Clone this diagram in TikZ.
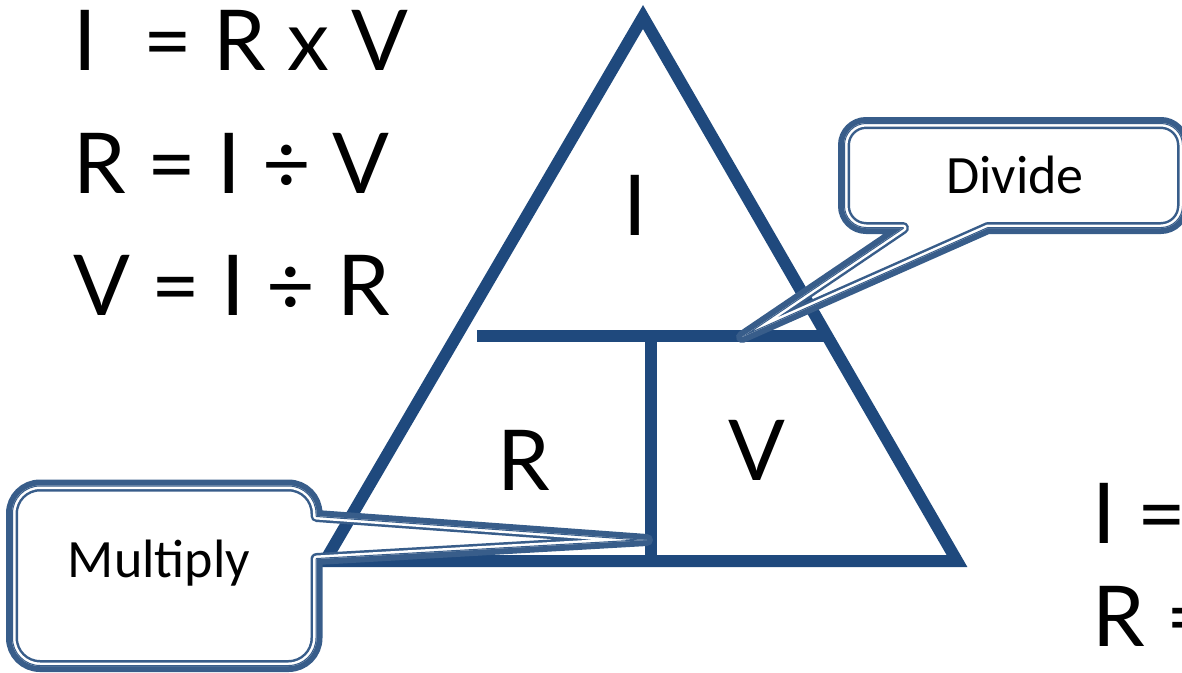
\documentclass[tikz,border=0pt]{standalone}
\usepackage{fontspec}
\setmainfont{Lato}
\newfontfamily\calfont{Carlito}
\definecolor{tri}{HTML}{1F497D}
\definecolor{cal}{HTML}{385D8A}
\def\MulPath{(12,513.5) .. controls (12,498) and (24.5,485.5) .. (40,485.5) -- (288.5,485.5) .. controls (304,485.5) and (316.5,498) .. (316.5,513.5) -- (316.5,516) -- (647,540) -- (316.5,559) -- (316.5,638) .. controls (316.5,653.5) and (304,666) .. (288.5,666) -- (40,666) .. controls (24.5,666) and (12,653.5) .. (12,638) -- cycle}
\def\DivPath{(844,145) .. controls (844,132.9) and (853.9,123) .. (866,123) -- (1161,123) .. controls (1173.1,123) and (1183,132.9) .. (1183,145) -- (1183,206) .. controls (1183,218.1) and (1173.1,228) .. (1161,228) -- (988,228) -- (742,337) -- (903,228) -- (866,228) .. controls (853.9,228) and (844,218.1) .. (844,206) -- cycle}
\begin{document}
\begin{tikzpicture}[x=1pt,y=-1pt,
  bigtxt/.style={inner sep=0pt, font=\fontsize{84}{90}\selectfont},
  caltxt/.style={inner sep=0pt, font=\calfont\fontsize{54}{60}\selectfont},
  triline/.style={draw=tri, line width=12pt, line join=miter},
  divline/.style={draw=tri, line width=11.5pt},
  calthick/.style={draw=cal, line width=12pt, line join=round},
  calgap/.style={draw=white, line width=7pt, line join=round},
  calthin/.style={draw=cal, line width=2pt, line join=round}]
\useasboundingbox (0,0) rectangle (1182,672);
% triangle
\coordinate (A) at (643,17);
\coordinate (B) at (325,561);
\coordinate (C) at (957,561);
\draw[triline] (A) -- (B) -- (C) -- cycle;
\coordinate (HL) at (477,336);
\coordinate (HR) at (828,336);
\coordinate (VT) at (651,336);
\coordinate (VB) at (651,561);
\draw[divline] (HL) -- (HR);
\draw[divline] (VT) -- (VB);
\node[bigtxt, anchor=base] (tI) at (635,235) {I};
\node[bigtxt, anchor=base] (tR) at (524,490) {R};
\node[bigtxt, anchor=base] (tV) at (757,480) {V};
% equations
\node[bigtxt, anchor=base west] (e1) at (73,70) {I\hspace{0.3em} = R x V};
\node[bigtxt, anchor=base west] (e2) at (73,193) {R = I ÷ V};
\node[bigtxt, anchor=base west] (e3) at (73,315) {V = I ÷ R};
\node[bigtxt, anchor=base west] (e4) at (1092,543) {I =};
\node[bigtxt, anchor=base west] (e5) at (1092,646) {R =};
% multiply callout
\fill[white, rounded corners=28pt] (12,485.5) rectangle (316.5,666);
\draw[calthick] \MulPath;
\begin{scope}
\clip \MulPath;
\draw[calgap] \MulPath;
\draw[calthin] \MulPath;
\end{scope}
\node[caltxt, anchor=base] (mul) at (159,577) {Multiply};
% divide callout
\fill[white, rounded corners=22pt] (844,123) rectangle (1183,228);
\draw[calthick] \DivPath;
\begin{scope}
\clip \DivPath;
\draw[calgap] \DivPath;
\draw[calthin] \DivPath;
\end{scope}
\node[caltxt, anchor=base] (div) at (1015,193) {Divide};
\end{tikzpicture}
\end{document}
